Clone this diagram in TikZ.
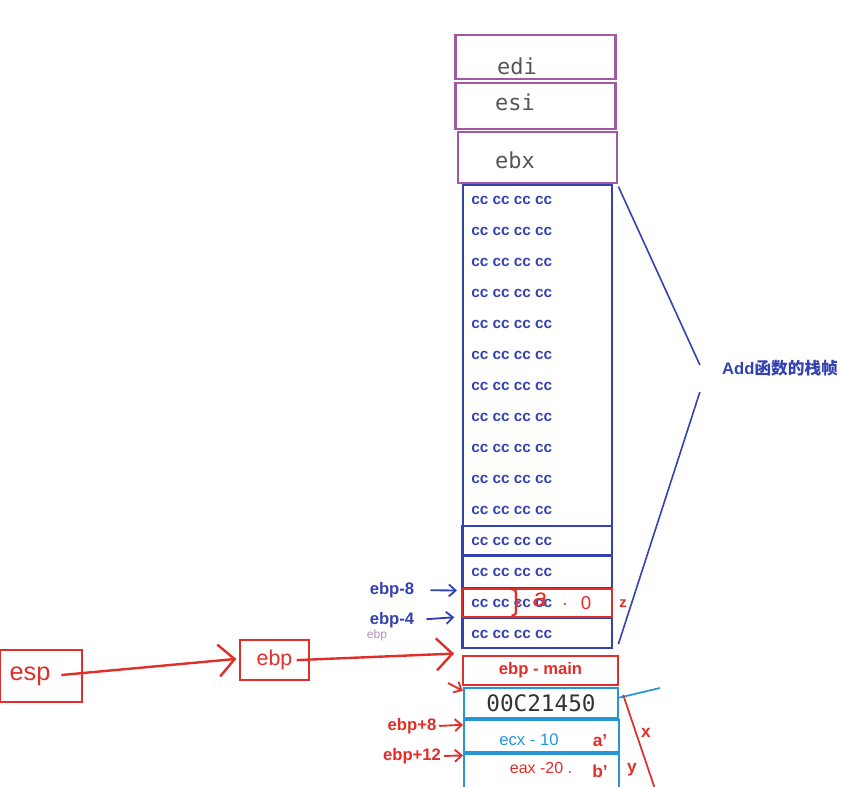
\documentclass[tikz,border=0pt]{standalone}
\usepackage{fontspec}
\setmainfont{Liberation Sans}
\newfontfamily\monofont{DejaVu Sans Mono}
\newfontfamily\cjkfont{Noto Sans CJK SC}
\usepackage{tikz}
\usetikzlibrary{
  arrows.meta,
  positioning
}
\definecolor{regpurple}{RGB}{163,88,163}
\definecolor{frameblue}{RGB}{52,66,176}
\definecolor{ptrred}{RGB}{224,46,40}
\definecolor{argcyan}{RGB}{38,150,215}
\definecolor{codegray}{RGB}{85,85,85}
\definecolor{fadedlab}{RGB}{180,145,185}
\tikzset{
  savedreg/.style={draw=regpurple,line width=1.8pt,minimum width=120pt,inner sep=0pt},
  regtext/.style={font=\monofont\fontsize{16.5}{16}\selectfont,text=codegray,inner sep=0pt},
  cell/.style={draw=frameblue,line width=1.6pt,minimum width=112.5pt,inner sep=0pt},
  redcell/.style={draw=ptrred,line width=1.6pt,minimum width=112.5pt,inner sep=0pt},
  argcell/.style={draw=argcyan,line width=1.8pt,minimum width=116pt,inner sep=0pt},
  cctext/.style={font=\bfseries\fontsize{11.5}{12}\selectfont,text=frameblue,
    anchor=west,inner sep=0pt},
  regbox/.style={draw=ptrred,line width=1.5pt,inner sep=0pt},
  offlab/.style={font=\bfseries\fontsize{12.5}{13}\selectfont,inner sep=1pt},
  hand/.style={text=ptrred,inner sep=0pt},
  ptrflow/.style={-{Straight Barb[length=5pt,width=9pt]},line width=1.4pt,draw=ptrred},
  blueflow/.style={-{Straight Barb[length=5pt,width=9pt]},line width=1.4pt,draw=frameblue},
  bigflow/.style={-{Straight Barb[length=12pt,width=24pt]},line width=1.8pt,draw=ptrred},
  braceline/.style={draw=frameblue,line width=1.2pt}
}

\begin{document}
\begin{tikzpicture}[x=0.75pt,y=-0.75pt]
  \useasboundingbox (0,0) rectangle (843,787);
  % saved registers
  \node[savedreg,minimum height=33pt] (edi) at (535.5,57) {};
  \node[savedreg,minimum height=34.5pt] (esi) at (535.5,106) {};
  \node[savedreg,minimum height=38pt,minimum width=119pt] (ebx) at (537.5,157.5) {};
  \node[regtext] (edilbl) at (517,66) {edi};
  \node[regtext] (esilbl) at (515,102) {esi};
  \node[regtext] (ebxlbl) at (515,160) {ebx};
  % Add frame
  \node[cell,minimum width=111.75pt,minimum height=347.25pt] (frame) at (537.5,416.5) {};
  \node[cell,minimum height=21.75pt] (cellA) at (537,540.5) {};
  \node[cell,minimum height=24pt] (cellB) at (537,572) {};
  \node[cell,minimum height=22.5pt] (cellD) at (537,633) {};
  \node[redcell,minimum height=21pt] (varz) at (537,603) {};
  \foreach \i in {1,...,15}{
    \node[cctext] (cc\i) at (471,{169+31*\i}) {cc cc cc cc};
  }
  \node[hand,font=\fontsize{22}{22}\selectfont] (brace) at (516,603) {\}};
  \node[hand,font=\itshape\fontsize{19}{19}\selectfont] (avar) at (540,600) {a};
  \node[hand,font=\fontsize{14}{14}\selectfont] (dot) at (565,605) {.};
  \node[hand,font=\fontsize{14}{14}\selectfont] (zero) at (586,603) {0};
  \node[hand,font=\bfseries\fontsize{11}{11}\selectfont] (zlbl) at (623,604) {z};
  % main frame below
  \node[redcell,minimum width=116pt,minimum height=21.75pt] (main) at (540.5,670.5)
    {\textcolor{ptrred}{\bfseries\fontsize{12.5}{13}\selectfont ebp - main}};
  \node[argcell,minimum width=115.5pt,minimum height=22.5pt] (ret) at (541,703)
    {\monofont\fontsize{17}{17}\selectfont\textcolor{black!80}{00C21450}};
  \node[argcell,minimum height=24pt] (arg1) at (541.5,736) {};
  \node[argcell,minimum height=34.5pt] (arg2) at (541.5,777) {};
  \node[text=argcyan,font=\fontsize{12.5}{13}\selectfont,inner sep=0pt] (ecx) at (529,740) {ecx - 10};
  \node[text=ptrred,font=\fontsize{12}{13}\selectfont,inner sep=0pt] (eax) at (541,768) {eax -20 .};
  \node[hand,font=\bfseries\fontsize{13}{13}\selectfont] (aprime) at (600,741) {a'};
  \node[hand,font=\bfseries\fontsize{13}{13}\selectfont] (bprime) at (600,771) {b'};
  \node[hand,font=\bfseries\fontsize{13}{13}\selectfont] (xlbl) at (646,733) {x};
  \node[hand,font=\bfseries\fontsize{13}{13}\selectfont] (ylbl) at (632,770) {y};
  % offsets
  \node[offlab,text=frameblue] (ebpm8) at (392,590) {ebp-8};
  \node[offlab,text=frameblue] (ebpm4) at (392,620) {ebp-4};
  \node[text=fadedlab,font=\fontsize{9}{9}\selectfont,inner sep=0pt] (ebpfade) at (377,635) {ebp};
  \node[offlab,text=ptrred] (ebpp8) at (412,726) {ebp+8};
  \node[offlab,text=ptrred] (ebpp12) at (412,756) {ebp+12};
  \draw[blueflow,shorten <=11pt,shorten >=3pt] (ebpm8.east) -- ([yshift=-2pt]varz.north west);
  \draw[blueflow,shorten <=8pt,shorten >=5pt] (ebpm4.east) -- ([yshift=1pt]varz.south west);
  \draw[ptrflow,shorten <=1pt] (ebpp8.east) -- ([yshift=-4.5pt]arg1.north west);
  \draw[ptrflow,shorten <=1pt] (ebpp12.east) -- ([yshift=-2pt]arg2.north west);
  \coordinate (retptr) at (448,683);
  \draw[ptrflow] (retptr) -- ([yshift=-3pt]ret.north west);
  % esp and ebp registers
  \node[regbox,minimum width=61.5pt,minimum height=39pt] (espbox) at (41,676) {};
  \node[text=ptrred,font=\fontsize{19}{19}\selectfont,inner sep=0pt] (esp) at (30,676) {esp};
  \node[regbox,minimum width=51.75pt,minimum height=30pt,
    text=ptrred,font=\fontsize{16}{16}\selectfont] (ebp) at (274.5,660) {ebp};
  \draw[bigflow,shorten <=8pt,shorten >=2pt] (esp.east) -- ([yshift=1pt]ebp.west);
  \draw[bigflow,shorten <=-2pt] ([xshift=-8pt]ebp.east) -- ([shift={(-6pt,1pt)}]main.north west);
  % frame brace
  \node[text=frameblue,font=\bfseries\fontsize{12.5}{13}\selectfont,inner sep=0pt] (add)
    at (780,368) {Add{\cjkfont 函数的栈帧}};
  \draw[braceline] ([shift={(4pt,-2pt)}]frame.north east) -- ([shift={(-16.5pt,2.25pt)}]add.west);
  \draw[braceline] ([shift={(-16.5pt,-18pt)}]add.west) -- ([shift={(4pt,3.75pt)}]frame.south east);
  % return address marks
  \coordinate (cyanend) at (660,688);
  \coordinate (redend) at (656,792);
  \draw[draw=argcyan,line width=1.3pt] ([yshift=4pt]ret.east) -- (cyanend);
  \draw[draw=ptrred,line width=1.3pt] ([shift={(3pt,6pt)}]ret.east) -- (redend);
\end{tikzpicture}
\end{document}
